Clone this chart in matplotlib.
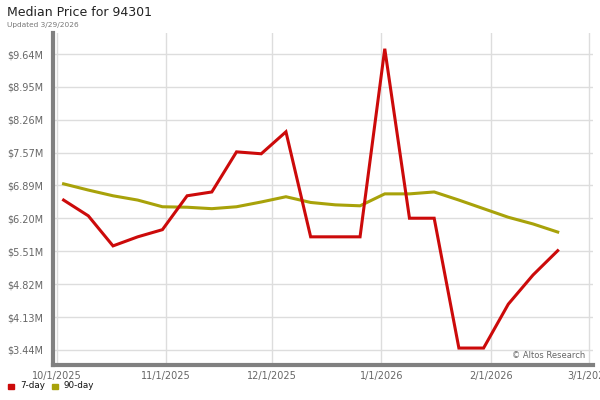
import matplotlib
matplotlib.use("Agg")
import matplotlib.pyplot as plt
import pandas as pd

dates = pd.date_range("2025-10-03", "2026-02-20", freq="7D")
red_7day = [6.58, 6.25, 5.62, 5.81, 5.96, 6.67, 6.75, 7.59, 7.55, 8.01, 5.81,
            5.81, 5.81, 9.75, 6.20, 6.20, 3.48, 3.48, 4.40, 5.01, 5.52]
green_90day = [6.92, 6.79, 6.67, 6.58, 6.44, 6.43, 6.40, 6.44, 6.54, 6.65, 6.53,
               6.48, 6.46, 6.71, 6.71, 6.75, 6.58, 6.40, 6.22, 6.08, 5.91]
ytick_values = [3.44, 4.13, 4.82, 5.51, 6.20, 6.89, 7.57, 8.26, 8.95, 9.64]
ytick_labels = ["$3.44M", "$4.13M", "$4.82M", "$5.51M", "$6.20M", "$6.89M",
                "$7.57M", "$8.26M", "$8.95M", "$9.64M"]
xtick_dates = pd.to_datetime(["2025-10-01", "2025-11-01", "2025-12-01",
                              "2026-01-01", "2026-02-01", "2026-03-01"])
xtick_labels = ["10/1/2025", "11/1/2025", "12/1/2025", "1/1/2026", "2/1/2026", "3/1/2026"]

RED = "#cc0a0a"
OLIVE = "#a8a20a"

fig = plt.figure(figsize=(6, 4), dpi=100)
ax = fig.add_axes([53/600, 1-365/400, 540/600, 332/400])

ax.plot(dates, green_90day, color=OLIVE, lw=2.2, solid_joinstyle="miter", zorder=3)
ax.plot(dates, red_7day, color=RED, lw=2.2, solid_joinstyle="miter", zorder=4)

ax.set_xlim(pd.Timestamp("2025-09-30"), pd.Timestamp("2026-03-02"))
ax.set_ylim(3.125, 10.08)
ax.set_yticks(ytick_values)
ax.set_yticklabels(ytick_labels)
ax.set_xticks(xtick_dates)
ax.set_xticklabels(xtick_labels)
ax.tick_params(length=0, labelsize=7, labelcolor="#666666")
ax.tick_params(axis="y", pad=7)
ax.tick_params(axis="x", pad=4)
ax.grid(True, color="#dddddd", lw=1)
ax.set_axisbelow(True)
for s in ["top", "right"]:
    ax.spines[s].set_visible(False)
for s in ["left", "bottom"]:
    ax.spines[s].set_color("#808080")
    ax.spines[s].set_linewidth(3)

ax.text(0.985, 0.015, "© Altos Research", transform=ax.transAxes, ha="right",
        va="bottom", fontsize=6, color="#666666")

fig.text(7/600, 1-13/400, "Median Price for 94301", fontsize=9, color="#222222",
         va="center", ha="left")
fig.text(7/600, 1-25/400, "Updated 3/29/2026", fontsize=5.3, color="#777777",
         va="center", ha="left")

# legend
fig.patches.append(plt.Rectangle((8/600, 1-389/400), 5.5/600, 5.5/400, color=RED,
                                 transform=fig.transFigure, figure=fig))
fig.text(20/600, 1-386/400, "7-day", fontsize=6.3, va="center", ha="left", color="#111111")
fig.patches.append(plt.Rectangle((52/600, 1-389/400), 5.5/600, 5.5/400, color=OLIVE,
                                 transform=fig.transFigure, figure=fig))
fig.text(64/600, 1-386/400, "90-day", fontsize=6.3, va="center", ha="left", color="#111111")

fig.savefig("out.png", dpi=100)
